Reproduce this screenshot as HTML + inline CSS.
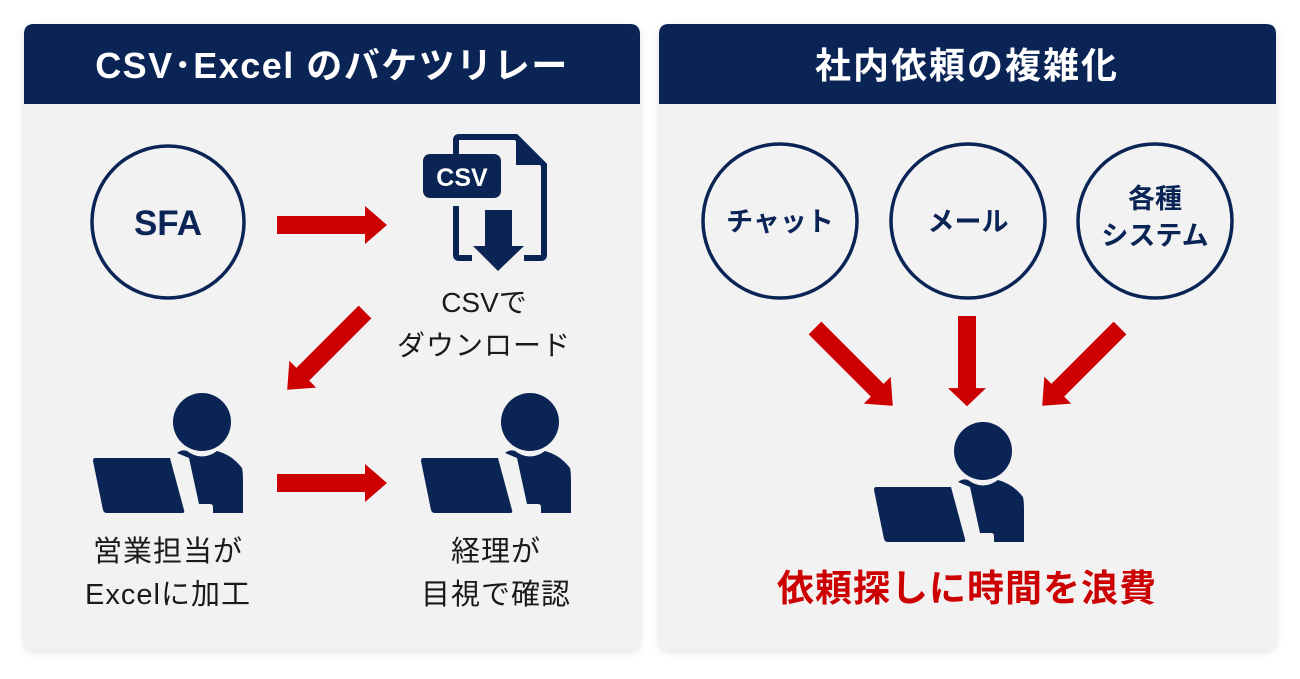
<!DOCTYPE html>
<html><head><meta charset="utf-8"><style>
body{margin:0;background:#fff;width:1300px;height:674px;overflow:hidden;font-family:"Liberation Sans","Noto Sans CJK JP",sans-serif;}
</style></head><body>
<svg width="1300" height="674" viewBox="0 0 1300 674" xmlns="http://www.w3.org/2000/svg" font-family="Liberation Sans, Noto Sans CJK JP, sans-serif">
<defs>
<filter id="sh" x="-5%" y="-5%" width="110%" height="110%"><feDropShadow dx="0" dy="2" stdDeviation="4" flood-color="#000" flood-opacity="0.12"/></filter>
<g id="person">
  <circle cx="0" cy="0" r="29" fill="#0a2456"/>
  <path d="M-25,31 Q-20,27 -15,29 Q0,40 15,29 Q30,33 40,46 Q41,50 41,60 L41,91 L11,91 L11,85 Q11,82 8,82 L-3,82 L-13,36 Z" fill="#0a2456"/>
  <path d="M-107,36 L-32,36 L-18,88 Q-17,91 -20,91 L-95,91 Q-98,91 -99,88 L-109,39 Q-109,36 -107,36 Z" fill="#0a2456"/>
</g>
<g id="arr"><polygon points="0,-9 88,-9 88,-19 110,0 88,19 88,9 0,9" fill="#cc0000"/></g>
</defs>
<rect x="24" y="24" width="616" height="626" rx="10" fill="#f2f2f2" filter="url(#sh)"/>
<rect x="659" y="24" width="617" height="626" rx="10" fill="#f2f2f2" filter="url(#sh)"/>
<path d="M24,104 L24,34 Q24,24 34,24 L630,24 Q640,24 640,34 L640,104 Z" fill="#0a2456"/>
<path d="M659,104 L659,34 Q659,24 669,24 L1266,24 Q1276,24 1276,34 L1276,104 Z" fill="#0a2456"/>
<text x="332" y="78" text-anchor="middle" fill="#fff" font-size="36" font-weight="bold" letter-spacing="1.5">CSV･Excel のバケツリレー</text>
<text x="967" y="78" text-anchor="middle" fill="#fff" font-size="36" font-weight="bold" letter-spacing="2">社内依頼の複雑化</text>

<circle cx="168" cy="222" r="76" fill="none" stroke="#0a2456" stroke-width="3.5"/>
<text x="168" y="235" text-anchor="middle" fill="#0a2456" font-size="35" font-weight="bold">SFA</text>

<path d="M456,178 L456,140 Q456,137 459,137 L516,137 L544,165 L544,255 Q544,258 541,258 L524,258" fill="none" stroke="#0a2456" stroke-width="6"/>
<path d="M516,137 L516,165 L544,165 Z" fill="#0a2456"/>
<path d="M456,206 L456,255 Q456,258 459,258 L472,258" fill="none" stroke="#0a2456" stroke-width="6"/>
<rect x="423" y="154" width="78" height="44" rx="7" fill="#0a2456"/>
<text x="462" y="186" text-anchor="middle" fill="#fff" font-size="25" font-weight="bold">CSV</text>
<polygon points="485,210 512,210 512,246 524,246 498,271 473,246 485,246" fill="#0a2456"/>
<text x="484" y="312" text-anchor="middle" fill="#1a1a1a" font-size="28">CSVで</text>
<text x="484" y="355" text-anchor="middle" fill="#1a1a1a" font-size="28" letter-spacing="1">ダウンロード</text>

<use href="#arr" transform="translate(277,225)"/>
<use href="#arr" transform="translate(365,312) rotate(135)"/>
<use href="#arr" transform="translate(277,483)"/>

<use href="#person" transform="translate(202,422)"/>
<use href="#person" transform="translate(530,422)"/>
<text x="168" y="561" text-anchor="middle" fill="#1a1a1a" font-size="29" letter-spacing="1">営業担当が</text>
<text x="168" y="604" text-anchor="middle" fill="#1a1a1a" font-size="29" letter-spacing="1">Excelに加工</text>
<text x="496" y="561" text-anchor="middle" fill="#1a1a1a" font-size="29" letter-spacing="1">経理が</text>
<text x="496" y="604" text-anchor="middle" fill="#1a1a1a" font-size="29" letter-spacing="1">目視で確認</text>

<circle cx="780" cy="221" r="77" fill="none" stroke="#0a2456" stroke-width="3.5"/>
<circle cx="968" cy="221" r="77" fill="none" stroke="#0a2456" stroke-width="3.5"/>
<circle cx="1155" cy="221" r="77" fill="none" stroke="#0a2456" stroke-width="3.5"/>
<text x="780" y="231" text-anchor="middle" fill="#0a2456" font-size="27" font-weight="bold">チャット</text>
<text x="968" y="231" text-anchor="middle" fill="#0a2456" font-size="27" font-weight="bold">メール</text>
<text x="1155" y="208" text-anchor="middle" fill="#0a2456" font-size="27" font-weight="bold">各種</text>
<text x="1155" y="245" text-anchor="middle" fill="#0a2456" font-size="27" font-weight="bold">システム</text>

<use href="#arr" transform="translate(815,328) rotate(45)"/>
<use href="#arr" transform="translate(967,316) rotate(90) scale(0.82,1)"/>
<use href="#arr" transform="translate(1120,328) rotate(135)"/>

<use href="#person" transform="translate(983,451)"/>
<text x="967" y="601" text-anchor="middle" fill="#cc0000" font-size="37" font-weight="bold" letter-spacing="1">依頼探しに時間を浪費</text>
</svg>
</body></html>
